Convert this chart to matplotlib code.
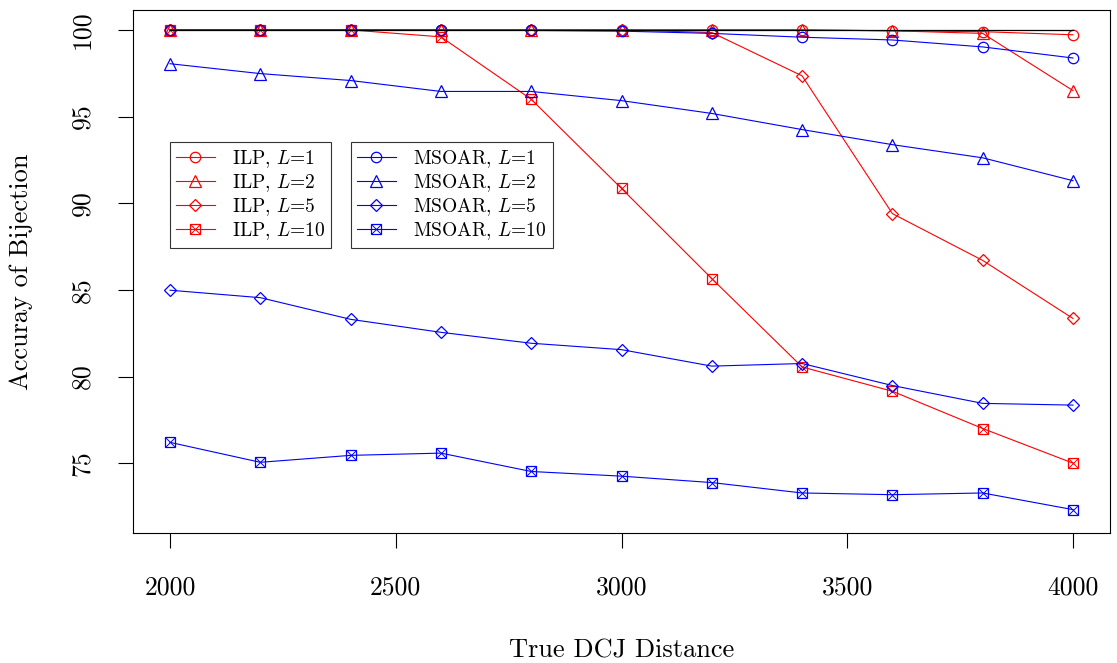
import matplotlib
matplotlib.use("Agg")
import matplotlib.pyplot as plt
from matplotlib.lines import Line2D
from matplotlib.legend_handler import HandlerTuple

plt.rcParams['font.family'] = ['cmr10']
plt.rcParams['mathtext.fontset'] = 'cm'
plt.rcParams['axes.unicode_minus'] = False
plt.rcParams['axes.formatter.use_mathtext'] = True

# ---- data ----
distance = [2000, 2200, 2400, 2600, 2800, 3000, 3200, 3400, 3600, 3800, 4000]

ilp_L1 = [100, 100, 100, 100, 100, 100, 100, 100, 99.95, 99.9, 99.72]
ilp_L2 = [100, 100, 100, 100, 100, 100, 100, 100, 99.95, 99.8, 96.5]
ilp_L5 = [100, 100, 100, 100, 100, 100, 99.85, 97.35, 89.4, 86.7, 83.35]
ilp_L10 = [100, 100, 100, 99.6, 96.0, 90.85, 85.65, 80.55, 79.15, 77.0, 75.0]

msoar_L1 = [99.98, 99.98, 99.98, 99.97, 99.97, 99.93, 99.8, 99.58, 99.42, 99.02, 98.38]
msoar_L2 = [98.05, 97.48, 97.08, 96.45, 96.45, 95.92, 95.18, 94.25, 93.38, 92.62, 91.3]
msoar_L5 = [84.98, 84.55, 83.3, 82.55, 81.92, 81.55, 80.6, 80.75, 79.48, 78.45, 78.35]
msoar_L10 = [76.2, 75.05, 75.45, 75.58, 74.52, 74.25, 73.88, 73.28, 73.18, 73.28, 72.32]

ref_level = 100

x_ticks = [2000, 2500, 3000, 3500, 4000]
y_ticks = [75, 80, 85, 90, 95, 100]

ilp_labels = ["ILP, $L$=1", "ILP, $L$=2", "ILP, $L$=5", "ILP, $L$=10"]
msoar_labels = ["MSOAR, $L$=1", "MSOAR, $L$=2", "MSOAR, $L$=5", "MSOAR, $L$=10"]

# ---- figure ----
W, H = 1117, 663
fig = plt.figure(figsize=(W / 100, H / 100), dpi=100)
left, right, top, bottom = 133, 1110, 10, 533
ax = fig.add_axes([left / W, 1 - bottom / H, (right - left) / W, (bottom - top) / H])

red = '#FF0000'
blue = '#0000FF'
lw = 0.8
ms = 7.5

markers = ['o', '^', 'D', 's']
sizes = [ms, ms + 1, ms - 1, ms - 0.5]

ilp_series = [ilp_L1, ilp_L2, ilp_L5, ilp_L10]
msoar_series = [msoar_L1, msoar_L2, msoar_L5, msoar_L10]

def draw(series, color):
    for vals, mk, sz in zip(series, markers, sizes):
        ax.plot(distance, vals, color=color, lw=lw, marker=mk, ms=sz,
                mfc='none', mec=color, mew=0.9)
        if mk == 's':
            ax.plot(distance, vals, color=color, lw=0, marker='x', ms=sz - 0.5,
                    mec=color, mew=0.7)

draw(ilp_series, red)
draw(msoar_series, blue)

ax.plot([distance[0], distance[-1]], [ref_level, ref_level], color='black', lw=0.9)

ax.set_xlim(1918, 4082)
ax.set_ylim(70.97, 101.15)
ax.set_xticks(x_ticks)
ax.set_yticks(y_ticks)
ax.set_xticklabels([str(t) for t in x_ticks])
ax.set_yticklabels([str(t) for t in y_ticks], rotation=90, va='center')
ax.tick_params(direction='out', length=11, width=0.8, labelsize=18.5, pad=20)
ax.tick_params(axis='y', pad=17)
for s in ax.spines.values():
    s.set_linewidth(0.8)

fig.text(622 / W, 1 - 651 / H, "True DCJ Distance", ha='center', va='center', fontsize=19)
fig.text(21 / W, 1 - 272 / H, "Accuray of Bijection", ha='center', va='center',
         fontsize=19, rotation=90)

def legend_handles(color):
    hs = []
    for mk, sz in zip(markers, sizes):
        hs.append(Line2D([], [], color=color, lw=lw, marker=mk, ms=sz, mfc='none',
                         mec=color, mew=0.9))
    x_over = Line2D([], [], color=color, lw=0, marker='x', ms=sizes[3] - 0.5, mec=color, mew=0.7)
    hs[3] = (hs[3], x_over)
    return hs

leg_kw = dict(loc='upper left', frameon=True, fancybox=False, fontsize=14,
              handlelength=2.0, handletextpad=0.9, borderpad=0.3, labelspacing=0.12,
              borderaxespad=0, handler_map={tuple: HandlerTuple(ndivide=1, pad=0)})

leg1 = ax.legend(legend_handles(red), ilp_labels,
                 bbox_to_anchor=(170 / W, 1 - 142 / H), bbox_transform=fig.transFigure, **leg_kw)
leg1.get_frame().set_edgecolor('black')
leg1.get_frame().set_linewidth(0.8)
ax.add_artist(leg1)
leg2 = ax.legend(legend_handles(blue), msoar_labels,
                 bbox_to_anchor=(351 / W, 1 - 142 / H), bbox_transform=fig.transFigure, **leg_kw)
leg2.get_frame().set_edgecolor('black')
leg2.get_frame().set_linewidth(0.8)

fig.savefig("out.png", dpi=100)
